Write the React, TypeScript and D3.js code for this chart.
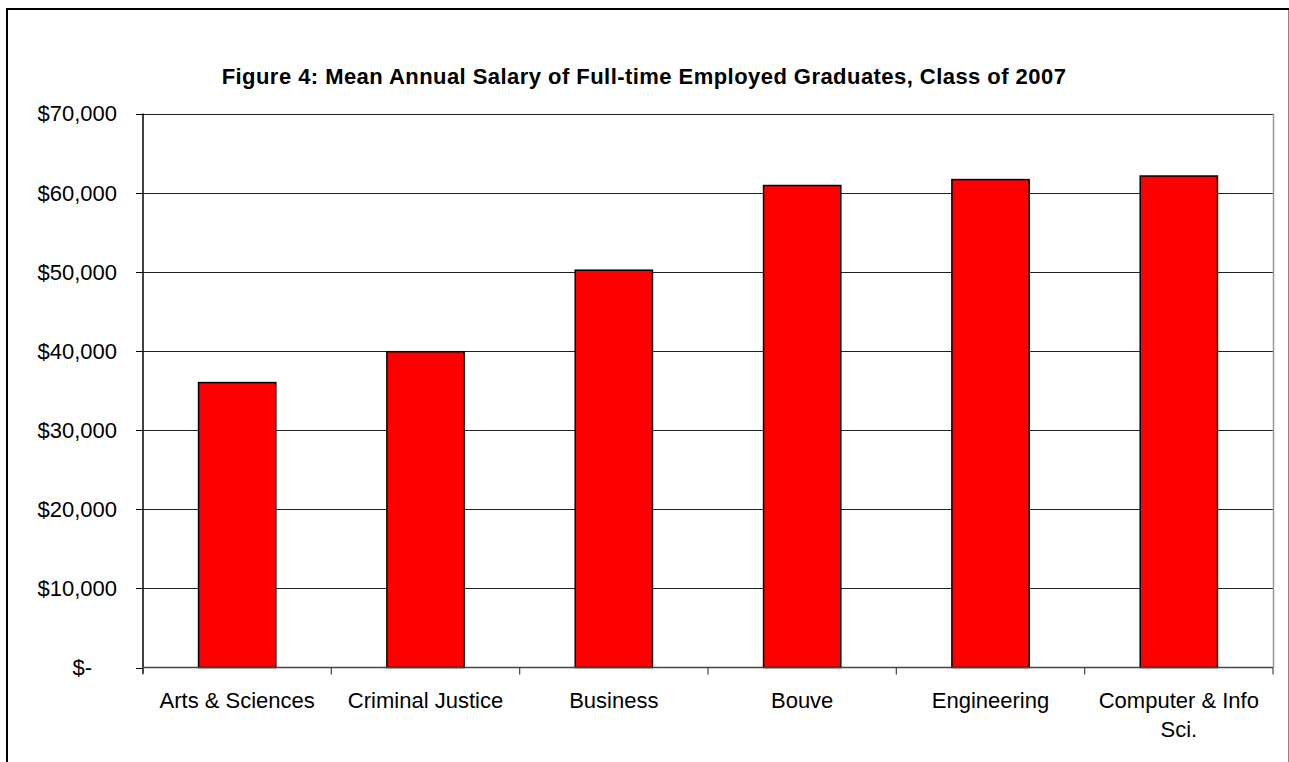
import React, { useEffect, useRef } from 'react';
import * as d3 from 'd3';

const categories = ['Arts & Sciences', 'Criminal Justice', 'Business', 'Bouve', 'Engineering', 'Computer & Info|Sci.'];
const salaries = [36000, 39900, 50200, 60900, 61650, 62100];
const yTicks = [0, 10000, 20000, 30000, 40000, 50000, 60000, 70000];

const App = () => {
    const ref = useRef<SVGSVGElement | null>(null);

    useEffect(() => {
        if (!ref.current) return;
        const svg = d3.select(ref.current);
        svg.selectAll('*').remove();

        const width = 1289;
        const height = 762;
        const left = 143, right = 1273, top = 113.5, bottom = 667.5;
        const font = 'Arial, "Liberation Sans", sans-serif';

        svg.append('rect').attr('width', width).attr('height', height).attr('fill', '#fff');

        // outer frame (runs off the bottom of the picture)
        svg.append('rect')
            .attr('x', 7).attr('y', 9)
            .attr('width', 1320).attr('height', 800)
            .attr('fill', 'none').attr('stroke', '#000').attr('stroke-width', 2);
        svg.append('line')
            .attr('x1', 1288.5).attr('x2', 1288.5)
            .attr('y1', 10).attr('y2', height)
            .attr('stroke', '#888').attr('stroke-width', 1);

        svg.append('text')
            .attr('x', 644).attr('y', 84)
            .attr('text-anchor', 'middle')
            .attr('font-family', font).attr('font-weight', 'bold')
            .attr('font-size', 22).attr('letter-spacing', 0.45)
            .text('Figure 4: Mean Annual Salary of Full-time Employed Graduates, Class of 2007');

        const x = d3.scaleBand<string>()
            .domain(categories)
            .range([left, right])
            .paddingInner(0.59)
            .paddingOuter(0.295);

        const y = d3.scaleLinear().domain([0, 70000]).range([bottom, top]);

        // gridlines
        svg.append('g').selectAll('line')
            .data(yTicks.filter(d => d > 0))
            .enter().append('line')
            .attr('x1', left).attr('x2', right)
            .attr('y1', d => Math.round(y(d)) + 0.5).attr('y2', d => Math.round(y(d)) + 0.5)
            .attr('stroke', '#222').attr('stroke-width', 1);

        // right plot edge
        svg.append('line')
            .attr('x1', right + 0.5).attr('x2', right + 0.5)
            .attr('y1', y(70000)).attr('y2', bottom)
            .attr('stroke', '#999').attr('stroke-width', 1.5);

        // bars
        svg.append('g').selectAll('rect')
            .data(salaries)
            .enter().append('rect')
            .attr('x', (d, i) => x(categories[i])!)
            .attr('y', d => y(d))
            .attr('width', x.bandwidth())
            .attr('height', d => bottom - y(d))
            .attr('fill', '#ff0000')
            .attr('stroke', '#000').attr('stroke-width', 1.5);

        // y axis
        svg.append('line')
            .attr('x1', left).attr('x2', left)
            .attr('y1', top).attr('y2', bottom + 6)
            .attr('stroke', '#000').attr('stroke-width', 1.5);

        const yAxis = svg.append('g');
        yAxis.selectAll('line')
            .data(yTicks).enter().append('line')
            .attr('x1', left - 7).attr('x2', left)
            .attr('y1', d => Math.round(y(d)) + 0.5).attr('y2', d => Math.round(y(d)) + 0.5)
            .attr('stroke', '#000').attr('stroke-width', 1);
        yAxis.selectAll('text')
            .data(yTicks).enter().append('text')
            .attr('x', d => d === 0 ? 92 : 117)
            .attr('y', d => y(d))
            .attr('dy', '0.36em')
            .attr('text-anchor', 'end')
            .attr('font-family', font).attr('font-size', 22)
            .text(d => d === 0 ? '$-' : d3.format('$,')(d));

        // x axis
        svg.append('line')
            .attr('x1', left).attr('x2', right)
            .attr('y1', bottom).attr('y2', bottom)
            .attr('stroke', '#444').attr('stroke-width', 1.5);

        const step = x.step();
        svg.append('g').selectAll('line')
            .data(d3.range(categories.length + 1))
            .enter().append('line')
            .attr('x1', i => left + i * step).attr('x2', i => left + i * step)
            .attr('y1', bottom).attr('y2', bottom + 7)
            .attr('stroke', '#444').attr('stroke-width', 1.2);

        const labels = svg.append('g').selectAll('text')
            .data(categories).enter().append('text')
            .attr('x', d => x(d)! + x.bandwidth() / 2)
            .attr('y', 708)
            .attr('text-anchor', 'middle')
            .attr('font-family', font).attr('font-size', 22);
        labels.each(function (d) {
            const parts = d.split('|');
            const t = d3.select(this);
            parts.forEach((p, i) => {
                t.append('tspan')
                    .attr('x', x(d)! + x.bandwidth() / 2)
                    .attr('dy', i === 0 ? 0 : 29)
                    .text(p);
            });
        });
    }, []);

    return (
        <svg ref={ref} width={1289} height={762}
            style={{ position: 'absolute', left: 0, top: 0, display: 'block' }} />
    );
};

export default App;
